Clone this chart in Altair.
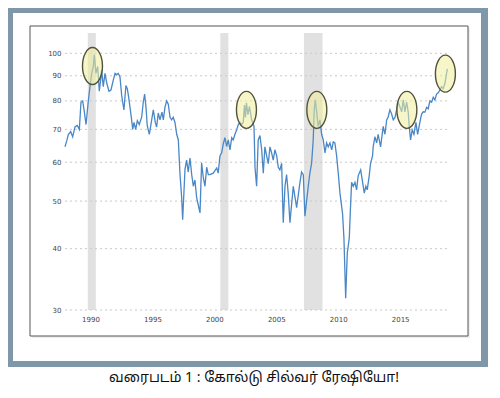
import altair as alt
import pandas as pd

# ---- data ----
years = [1988.66, 1988.80, 1988.93, 1989.12, 1989.28, 1989.47, 1989.65, 1989.82, 1989.95, 1990.09,
         1990.22, 1990.36, 1990.54, 1990.68, 1990.82, 1990.95, 1991.03, 1991.16, 1991.30, 1991.43,
         1991.54, 1991.62, 1991.75, 1991.89, 1992.03, 1992.21, 1992.37, 1992.56, 1992.70, 1992.83,
         1992.96, 1993.10, 1993.24, 1993.32, 1993.42, 1993.58, 1993.69, 1993.80, 1993.91, 1994.01,
         1994.13, 1994.23, 1994.37, 1994.50, 1994.66, 1994.85, 1994.98, 1995.09, 1995.20, 1995.30,
         1995.47, 1995.66, 1995.79, 1995.95, 1996.06, 1996.19, 1996.33, 1996.49, 1996.60, 1996.73,
         1996.87, 1997.00, 1997.14, 1997.27, 1997.40, 1997.54, 1997.68, 1997.81, 1997.94, 1998.08,
         1998.16, 1998.35, 1998.48, 1998.61, 1998.75, 1998.89, 1999.02, 1999.15, 1999.29, 1999.56,
         1999.69, 1999.82, 1999.96, 2000.10, 2000.23, 2000.36, 2000.63, 2000.91, 2001.03, 2001.17,
         2001.31, 2001.44, 2001.57, 2001.71, 2001.84, 2001.98, 2002.12, 2002.24, 2002.38, 2002.52,
         2002.65, 2002.79, 2002.92, 2003.05, 2003.15, 2003.23, 2003.31, 2003.43, 2003.55, 2003.73,
         2003.92, 2004.00, 2004.13, 2004.26, 2004.40, 2004.54, 2004.67, 2004.80, 2004.94, 2005.07,
         2005.21, 2005.34, 2005.47, 2005.61, 2005.75, 2005.88, 2006.01, 2006.15, 2006.28, 2006.42,
         2006.55, 2006.68, 2006.82, 2007.09, 2007.36, 2007.63, 2007.76, 2007.90, 2008.03, 2008.30,
         2008.43, 2008.57, 2008.70, 2008.78, 2008.86, 2008.98, 2009.10, 2009.24, 2009.38, 2009.51,
         2009.65, 2009.78, 2009.91, 2010.05, 2010.19, 2010.32, 2010.45, 2010.59, 2010.72, 2010.86,
         2011.07, 2011.18, 2011.32, 2011.45, 2011.61, 2011.72, 2011.80, 2011.93, 2012.07, 2012.20,
         2012.33, 2012.53, 2012.69, 2012.82, 2012.95, 2013.06, 2013.22, 2013.33, 2013.49, 2013.54,
         2013.68, 2013.82, 2013.94, 2014.14, 2014.35, 2014.49, 2014.63, 2014.75, 2014.89, 2015.03,
         2015.16, 2015.30, 2015.43, 2015.56, 2015.84, 2015.97, 2016.10, 2016.24, 2016.37, 2016.45,
         2016.56, 2016.69, 2016.83, 2016.99, 2017.13, 2017.31, 2017.45, 2017.58, 2017.72, 2017.85,
         2017.98, 2018.12, 2018.26, 2018.39, 2018.52, 2018.66, 2018.79, 2018.93, 2019.06, 2019.19,
         2019.33, 2019.43, 2019.53]
ratios = [64.5, 66.3, 68.3, 69.3, 67.6, 70.8, 71.3, 70.0, 79.5, 80.0,
          76.1, 71.6, 79.8, 85.6, 91.0, 94.2, 99.3, 91.0, 94.0, 83.7,
          88.2, 92.5, 85.5, 91.0, 87.0, 83.7, 84.2, 88.2, 91.0, 90.5,
          91.0, 89.5, 82.0, 79.5, 76.7, 86.0, 84.7, 81.4, 77.6, 74.2,
          70.0, 72.3, 70.0, 72.9, 71.6, 74.1, 79.5, 82.6, 77.6, 71.3,
          68.4, 73.2, 76.7, 72.3, 70.8, 75.6, 73.2, 75.9, 73.2, 77.6,
          80.0, 78.8, 74.1, 73.2, 74.1, 72.3, 68.4, 66.6, 57.0, 50.8,
          45.8, 58.1, 60.6, 57.3, 61.2, 56.6, 53.6, 55.2, 50.8, 47.3,
          59.8, 56.0, 53.6, 58.6, 56.6, 56.6, 57.0, 58.4, 57.0, 61.8,
          62.7, 65.4, 67.3, 64.6, 66.6, 63.6, 67.3, 66.6, 68.4, 69.8,
          71.6, 72.3, 71.6, 72.3, 78.5, 74.0, 79.3, 75.0, 78.0, 73.2,
          71.0, 58.6, 53.6, 66.6, 68.0, 63.6, 57.0, 64.5, 61.8, 59.6,
          64.5, 62.7, 60.6, 63.6, 61.8, 58.6, 57.9, 59.7, 45.2, 53.6,
          56.6, 51.9, 45.2, 53.6, 48.5, 54.6, 57.3, 56.6, 46.6, 53.6,
          57.0, 59.7, 66.6, 76.7, 80.4, 75.9, 71.0, 73.2, 68.4, 66.6,
          62.7, 65.7, 64.5, 65.7, 63.6, 66.0, 65.7, 61.8, 57.0, 51.9,
          47.1, 42.0, 31.7, 39.2, 42.0, 49.3, 54.6, 53.6, 54.6, 52.7,
          56.3, 57.9, 54.6, 51.9, 53.6, 52.7, 56.3, 59.7, 61.8, 64.5,
          67.6, 65.7, 68.4, 64.5, 71.0, 68.4, 73.2, 74.2, 76.7, 75.2,
          73.2, 74.0, 76.7, 79.5, 76.0, 80.4, 76.0, 79.5, 75.9, 71.0,
          66.6, 69.8, 68.4, 72.3, 68.4, 72.3, 75.2, 76.0, 75.9, 77.6,
          77.1, 80.0, 79.5, 81.4, 80.4, 82.6, 83.1, 84.2, 85.5, 84.7,
          86.8, 90.0, 93.0]

recession_start = [1990.5, 2001.2, 2007.95]
recession_end = [1991.15, 2001.85, 2009.45]

circle_years = [1990.88, 2003.31, 2008.99, 2016.26, 2019.37]
circle_ratios = [94.2, 76.7, 76.7, 76.7, 90.9]

y_ticks = [30, 40, 50, 60, 70, 80, 90, 100]
x_ticks = [1990, 1995, 2000, 2005, 2010, 2015]
caption = "வரைபடம் 1 : கோல்டு சில்வர் ரேஷியோ!"

# ---- chart ----
W, H = 384, 277
FONT = "DejaVu Sans"

x_scale = alt.Scale(domain=[1988.5, 2019.5], nice=False, zero=False)
y_scale = alt.Scale(type="log", domain=[30, 110], nice=False)

x_axis = alt.Axis(values=x_ticks, format="d", labelAlign="left", labelBaseline="top",
                  labelPadding=5, ticks=False, domain=False, grid=False, title=None,
                  labelFont=FONT, labelFontSize=7, labelColor="#444444", labelFlush=False,
                  labelOverlap=False, zindex=1)
y_axis = alt.Axis(values=y_ticks, format="d", labelPadding=2, ticks=False, domain=False,
                  grid=False, title=None, labelFont=FONT, labelFontSize=7,
                  labelColor="#444444", labelBaseline="middle", zindex=1)

one = pd.DataFrame({"k": [0]})


def box(x1, x2, y1, y2, **kw):
    return alt.Chart(one).mark_rect(**kw).encode(
        x=alt.value(x1), x2=alt.value(x2), y=alt.value(y1), y2=alt.value(y2))


frame_outer = box(-55, 425, -25, 334, color="#7e97a9")
frame_inner = box(-50, 418, -20, 328, color="#ffffff")
shadow = box(-31, 407, -5, 305, color="#eeeeee")
inner_box = box(-33, 405, -7, 303, fill="#ffffff", stroke="#555555", strokeWidth=1)

bands_df = pd.DataFrame({"s": recession_start, "e": recession_end})
bands = alt.Chart(bands_df).mark_rect(color="#e1e1e1").encode(
    x=alt.X("s:Q", scale=x_scale, axis=x_axis), x2="e:Q")

grid_df = pd.DataFrame({"v": y_ticks})
grid = alt.Chart(grid_df).mark_rule(color="#c9c9c9", strokeDash=[2, 3], strokeWidth=1).encode(
    y=alt.Y("v:Q", scale=y_scale, axis=y_axis))

line_df = pd.DataFrame({"year": years, "ratio": ratios})
line = alt.Chart(line_df).mark_line(color="#4a87c6", strokeWidth=1.3).encode(
    x=alt.X("year:Q", scale=x_scale, axis=x_axis),
    y=alt.Y("ratio:Q", scale=y_scale, axis=y_axis))

ellipse = "M0,-1 A0.54,1 0 1,1 0,1 A0.54,1 0 1,1 0,-1 Z"
circ_df = pd.DataFrame({"year": circle_years, "ratio": circle_ratios})
circles = alt.Chart(circ_df).mark_point(
    shape=ellipse, size=1369, filled=True, fill="#f1ee9c", fillOpacity=0.55,
    stroke="#52523a", strokeWidth=1.4, strokeOpacity=1, opacity=1).encode(
    x=alt.X("year:Q", scale=x_scale, axis=x_axis),
    y=alt.Y("ratio:Q", scale=y_scale, axis=y_axis))

cap_df = pd.DataFrame({"t": [caption]})
cap = alt.Chart(cap_df).mark_text(
    font="Noto Sans Tamil, Lohit Tamil, Noto Serif Tamil, sans-serif", fontSize=14,
    color="#111111", align="center", baseline="middle").encode(
    x=alt.value(191), y=alt.value(345), text="t:N")

chart = alt.layer(
    frame_outer, frame_inner, shadow, inner_box, bands, grid, line, circles, cap
).properties(
    width=W, height=H,
    padding={"left": 55, "top": 25, "right": 41, "bottom": 78},
    autosize=alt.AutoSizeParams(type="none"),
    background="#ffffff",
).configure_view(stroke=None)

chart.save("out.html", embed_options={"renderer": "svg", "actions": False})
